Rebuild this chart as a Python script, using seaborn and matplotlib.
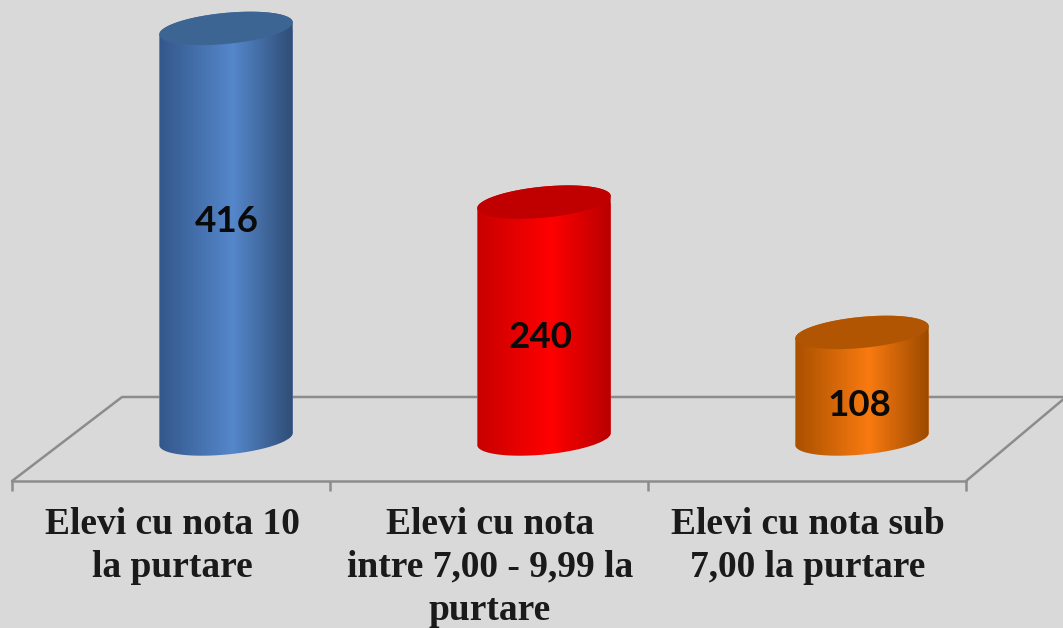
import numpy as np
import matplotlib
matplotlib.use("Agg")
import matplotlib.pyplot as plt
from matplotlib.colors import LinearSegmentedColormap
from matplotlib.patches import PathPatch
from matplotlib.path import Path
from matplotlib.transforms import IdentityTransform
import seaborn as sns

categories = ["Elevi cu nota 10\nla purtare",
              "Elevi cu nota\nintre 7,00 - 9,99 la\npurtare",
              "Elevi cu nota sub\n7,00 la purtare"]
values = [416, 240, 108]
body_edge_left = ["#33578a", "#c80000", "#a95000"]
body_center = ["#5587cb", "#ff0000", "#f97a10"]
body_edge_right = ["#2f4d76", "#b80000", "#9c4a00"]
cap_colors = ["#3d6594", "#c00000", "#b25503"]

W, H = 1063, 628
BG = "#d9d9d9"
GRID = "#8c8c8c"
PX_PER_CAT = 318.0
PX_PER_UNIT = 0.987
X0_PX = 226.0       # first bar centre
BASE_PX = 439.0     # y of bar base centre (from top)
AXIS_PX = 481.0     # front floor edge (from top)
BACK_PX = 397.0     # back floor edge
DEPTH_PX = 54.0     # label slots are shifted left of the bars
HALF_H = 15.5
TILT = np.deg2rad(5.5)

sns.set_theme(style="white", rc={"figure.facecolor": BG, "axes.facecolor": BG})
fig = plt.figure(figsize=(W / 100, H / 100), dpi=100, facecolor=BG)
ax = fig.add_axes([0, (H - AXIS_PX) / H, 1, AXIS_PX / H])
ax.patch.set_alpha(0)

sns.barplot(x=categories, y=values, hue=categories, palette=body_center,
            width=134 / PX_PER_CAT, legend=False, saturation=1, ax=ax, zorder=3)

ax.set_xlim(-X0_PX / PX_PER_CAT, (W - X0_PX) / PX_PER_CAT)
ax.set_ylim(-(AXIS_PX - BASE_PX) / PX_PER_UNIT, BASE_PX / PX_PER_UNIT)

# axis
cat_pos = np.arange(len(categories))
bounds = np.array([-0.5, 0.5, 1.5, 2.5]) - DEPTH_PX / PX_PER_CAT - 0.003
ax.set_xticks(bounds, [""] * 4)
ax.set_xticks(cat_pos - DEPTH_PX / PX_PER_CAT, categories, minor=True)
ax.tick_params(axis="x", which="major", length=7.5, width=1.8, color=GRID, bottom=True)
ax.tick_params(axis="x", which="minor", length=0, pad=19, bottom=False)
for t in ax.get_xticklabels(minor=True):
    t.set_fontfamily("Liberation Serif")
    t.set_fontweight("bold")
    t.set_fontsize(27)
    t.set_color("#1a1a1a")
    t.set_linespacing(1.28)
ax.set_yticks([])
ax.set_xlabel("")
ax.set_ylabel("")
for s in ["top", "left", "right"]:
    ax.spines[s].set_visible(False)
ax.spines["bottom"].set_color(GRID)
ax.spines["bottom"].set_linewidth(1.8)
ax.spines["bottom"].set_bounds(bounds[0], bounds[-1])

# floor in data coordinates
back_y = (BASE_PX - BACK_PX) / PX_PER_UNIT
front_y = ax.get_ylim()[0]
skew = 110 / PX_PER_CAT
floor_kw = dict(color=GRID, lw=1.8, zorder=1, clip_on=False, solid_capstyle="round")
ax.plot([bounds[0], bounds[0] + skew, (W + 5 - X0_PX) / PX_PER_CAT],
        [front_y, back_y, back_y], **floor_kw)
ax.plot([bounds[-1], bounds[-1] + 100 / PX_PER_CAT], [front_y, back_y], **floor_kw)


def ellipse_pts(cx, cy, a, b, t):
    return np.column_stack([cx + a * np.cos(t) * np.cos(TILT) - b * np.sin(t) * np.sin(TILT),
                            cy + a * np.cos(t) * np.sin(TILT) + b * np.sin(t) * np.cos(TILT)])


fig.canvas.draw()
bars = list(ax.patches)
for i, (bar, val) in enumerate(zip(bars, values)):
    xc = bar.get_x() + bar.get_width() / 2
    x_left, x_right = bar.get_x(), bar.get_x() + bar.get_width()
    p_base = ax.transData.transform((xc, 0))
    p_top = ax.transData.transform((xc, val))
    a = (ax.transData.transform((x_right, 0))[0] - ax.transData.transform((x_left, 0))[0]) / 2
    ts_low = np.linspace(np.pi, 2 * np.pi, 60)
    low = ellipse_pts(p_base[0], p_base[1], a, HALF_H, ts_low)
    ts_up = np.linspace(0, np.pi, 60)
    up = ellipse_pts(p_top[0], p_top[1], a, HALF_H, ts_up)
    body = Path(np.vstack([low, up, low[:1]]), closed=True)

    cmap = LinearSegmentedColormap.from_list(
        f"c{i}", [(0, body_edge_left[i]), (0.55, body_center[i]), (1, body_edge_right[i])])
    grad = np.linspace(0, 1, 256).reshape(1, -1)
    y_lo = -2 * HALF_H / PX_PER_UNIT
    y_hi = val + 2 * HALF_H / PX_PER_UNIT
    im = ax.imshow(grad, extent=[x_left, x_right, y_lo, y_hi], cmap=cmap, aspect="auto",
                   zorder=4, interpolation="bilinear")
    clip = PathPatch(body, transform=IdentityTransform(), fc="none", ec="none")
    ax.add_patch(clip)
    im.set_clip_path(clip)
    bar.set_clip_path(clip)

    cap = ellipse_pts(p_top[0], p_top[1], a, HALF_H, np.linspace(0, 2 * np.pi, 120))
    ax.add_patch(PathPatch(Path(cap, closed=True), transform=IdentityTransform(),
                           fc=cap_colors[i], ec="none", zorder=5))

ax.set_xlim(-X0_PX / PX_PER_CAT, (W - X0_PX) / PX_PER_CAT)
ax.set_ylim(-(AXIS_PX - BASE_PX) / PX_PER_UNIT, BASE_PX / PX_PER_UNIT)

label_offsets = [(1, 12), (-3, -17), (-3, -20)]
for bar, val, off in zip(bars, values, label_offsets):
    ax.annotate(str(val), (bar.get_x() + bar.get_width() / 2, val / 2), xytext=off,
                textcoords=("offset pixels"), ha="center", va="center", zorder=6,
                fontsize=26.5, fontweight="bold", family="Lato", color="#0a0a0a")

fig.savefig("out.png", dpi=100, facecolor=BG)
